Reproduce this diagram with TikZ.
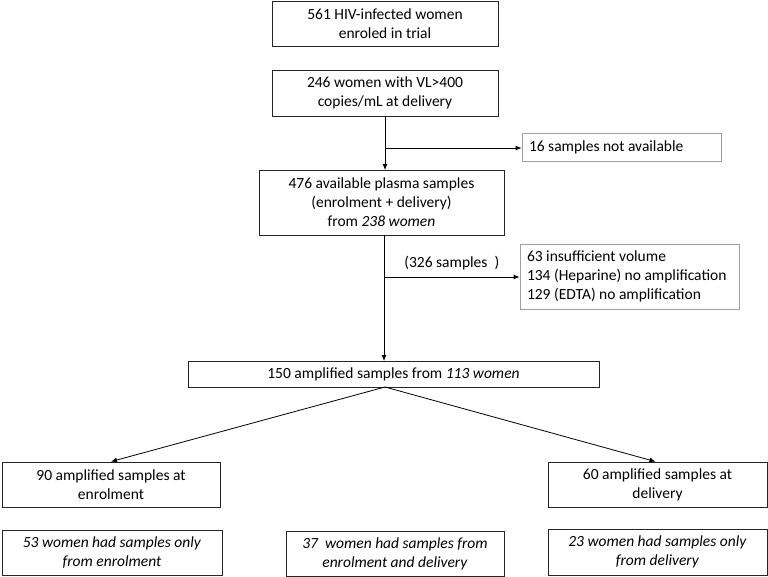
\documentclass[tikz,border=0pt]{standalone}
\usepackage{fontspec}
\setmainfont{Carlito}
\usetikzlibrary{arrows.meta}
\begin{document}
\begin{tikzpicture}[x=1pt,y=-1pt,
  font=\fontsize{15.5}{19}\selectfont,
  box/.style={draw=black!85,line width=0.8pt,inner sep=0pt,align=center},
  sidebox/.style={draw=gray!75,line width=0.8pt,inner sep=0pt},
  arr/.style={line width=0.8pt,-{Latex[length=6pt,width=5pt]}},
  ln/.style={line width=0.8pt}]
\useasboundingbox (0,0) rectangle (768,577);
\node[box,minimum width=226,minimum height=45] (b1) at (385,23.5) {561 HIV-infected women\\enroled in trial};
\node[box,minimum width=226,minimum height=46] (b2) at (385,93) {246 women with VL>400\\copies/mL at delivery};
\node[sidebox,minimum width=199,minimum height=28,text width=185,align=flush left] (b3) at (621.5,147) {16 samples not available};
\node[box,minimum width=245,minimum height=65] (b4) at (381.5,202.5) {476 available plasma samples\\(enrolment + delivery)\\from \textit{238 women}};
\node[sidebox,minimum width=219,minimum height=65,text width=205,align=flush left] (b5) at (629.5,276.5) {63 insufficient volume\\134 (Heparine) no amplification\\129 (EDTA) no amplification};
\node[box,minimum width=411,minimum height=26] (b6) at (393.5,374) {150 amplified samples from \textit{113 women}};
\node[box,minimum width=218,minimum height=45] (b7) at (111,484.5) {90 amplified samples at\\enrolment};
\node[box,minimum width=219,minimum height=45] (b8) at (657.5,484.5) {60 amplified samples at\\delivery};
\node[box,minimum width=220,minimum height=45] (b9) at (112,552.5) {\textit{53 women had samples only}\\\textit{from enrolment}};
\node[box,minimum width=218,minimum height=45] (b10) at (395,553.5) {\textit{37\ \ women had samples from}\\\textit{enrolment and delivery}};
\node[box,minimum width=219,minimum height=46] (b11) at (657.5,552) {\textit{23 women had samples only}\\\textit{from delivery}};
% connectors
\coordinate (t2) at (385,116);
\coordinate (t4) at (385,170);
\coordinate (j1) at (385,148);
\coordinate (s4) at (384,235);
\coordinate (t6) at (384,361);
\coordinate (j2) at (384,277);
\coordinate (s6) at (385,387);
\draw[arr] (t2) -- (t4);
\draw[arr] (j1) -- (b3.west |- j1);
\draw[arr] (s4) -- (t6);
\draw[arr] (j2) -- (b5.west |- j2) node[midway,above=3pt] {(326 samples\ \ )};
\draw[arr] (s6) -- (b7.north);
\draw[arr] (s6) -- ([xshift=-2pt]b8.north);
\end{tikzpicture}
\end{document}
